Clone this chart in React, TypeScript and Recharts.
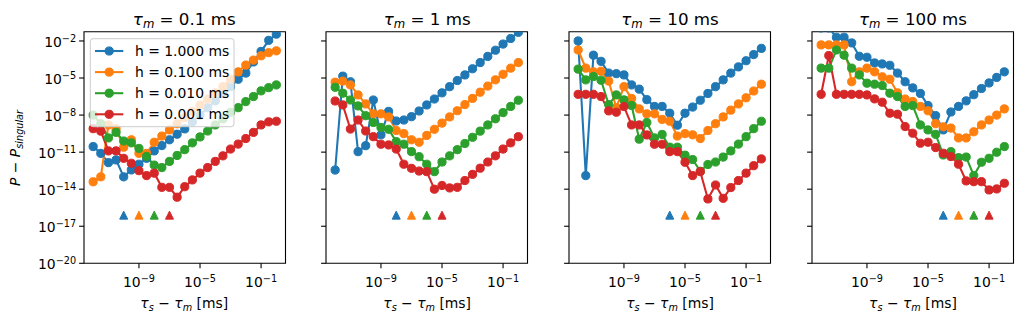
import React from 'react';
import { ComposedChart, Line, Scatter, XAxis, YAxis, ReferenceArea } from 'recharts';

// x positions: log10(tau_s - tau_m) in ms
const tauExp = [-12, -11.5, -11, -10.5, -10, -9.5, -9, -8.5, -8, -7.5, -7, -6.5, -6, -5.5, -5, -4.5, -4, -3.5, -3, -2.5, -2, -1.5, -1, -0.5, 0];

// log10(P - P_singular)
// tau_m = 0.1 ms
const tm01_h1000 = [-10.55, -11.1, -11.85, -11.63, -13.0, -12.44, -11.98, -11.5, -10.9, -10.47, -10.0, -9.55, -9.12, -8.55, -8.0, -7.4, -6.85, -6.25, -5.7, -5.1, -4.6, -3.7, -2.85, -1.95, -1.45];
const tm01_h0100 = [-13.4, -13.0, -8.8, -9.1, -10.6, -10.0, -11.1, -11.1, -10.2, -9.7, -9.2, -8.7, -8.2, -7.7, -7.2, -6.7, -6.2, -5.7, -5.1, -4.5, -3.95, -3.55, -3.2, -2.95, -2.8];
const tm01_h0010 = [-8.0, -8.7, -9.85, -9.4, -10.1, -10.25, -10.7, -11.35, -12.05, -12.25, -11.75, -11.27, -10.8, -10.25, -9.77, -9.29, -8.8, -8.31, -7.77, -7.4, -6.91, -6.5, -6.04, -5.78, -5.56];
const tm01_h0001 = [-9.1, -9.3, -10.9, -10.9, -11.5, -11.9, -12.5, -12.9, -12.7, -13.85, -13.85, -14.65, -13.8, -13.25, -12.7, -12.25, -11.75, -11.3, -10.75, -10.35, -9.9, -9.4, -8.8, -8.55, -8.5];

// tau_m = 1 ms
const tm1_h1000 = [-12.45, -4.85, -5.3, -10.96, -10.48, -6.78, -9.6, -7.7, -8.48, -8.4, -8.13, -7.67, -7.18, -6.7, -6.2, -5.7, -5.2, -4.75, -4.25, -3.75, -3.25, -2.75, -2.25, -1.8, -1.3];
const tm1_h0100 = [-5.34, -5.25, -5.56, -6.37, -7.1, -7.9, -7.9, -8.15, -9.25, -9.5, -10.0, -10.2, -9.65, -9.15, -8.65, -8.15, -7.65, -7.15, -6.65, -6.15, -5.65, -5.15, -4.7, -4.2, -3.75];
const tm1_h0010 = [-5.75, -6.23, -6.78, -7.26, -8.05, -8.6, -9.0, -9.15, -10.15, -10.36, -10.96, -11.37, -11.98, -12.58, -11.8, -11.3, -10.8, -10.3, -9.8, -9.3, -8.8, -8.3, -7.8, -7.3, -6.8];
const tm1_h0001 = [-6.86, -7.18, -9.13, -8.4, -9.29, -9.75, -10.36, -10.42, -10.75, -11.98, -12.31, -12.53, -12.58, -14.0, -13.7, -13.9, -13.85, -13.3, -12.8, -12.3, -11.8, -11.3, -10.75, -10.25, -9.75];

// tau_m = 10 ms
const tm10_h1000 = [-2.0, -12.9, -3.15, -3.65, -4.6, -4.65, -4.75, -5.56, -5.9, -6.75, -7.3, -7.3, -7.85, -8.82, -7.85, -7.35, -6.8, -6.25, -5.7, -5.15, -4.6, -4.1, -3.6, -3.1, -2.6];
const tm10_h0100 = [-2.73, -4.2, -4.5, -4.45, -5.25, -7.4, -5.7, -6.65, -7.5, -7.9, -7.9, -8.35, -8.5, -9.7, -9.5, -9.6, -9.9, -9.25, -8.7, -8.15, -7.6, -7.1, -6.6, -6.05, -5.5];
const tm10_h0010 = [-4.28, -5.15, -4.88, -5.18, -7.15, -6.37, -6.77, -7.22, -9.95, -8.6, -9.85, -9.57, -10.6, -10.6, -11.25, -11.6, -12.55, -12.0, -11.8, -11.4, -10.9, -10.35, -9.75, -9.1, -8.5];
const tm10_h0001 = [-6.32, -6.32, -6.32, -6.5, -7.66, -7.77, -7.31, -8.8, -8.8, -9.61, -10.36, -10.36, -10.96, -10.96, -11.82, -12.9, -12.58, -14.79, -13.66, -14.74, -13.87, -13.3, -12.7, -12.1, -11.55];

// tau_m = 100 ms
const tm100_h1000 = [-0.95, -0.95, -1.7, -1.7, -2.16, -3.24, -3.32, -3.78, -3.86, -3.97, -4.6, -5.3, -5.8, -6.25, -7.23, -8.04, -9.2, -7.75, -7.3, -6.85, -6.35, -5.85, -5.4, -4.95, -4.5];
const tm100_h0100 = [-2.32, -2.32, -2.32, -2.32, -5.3, -4.5, -4.2, -4.5, -4.9, -5.1, -6.2, -6.7, -6.9, -7.3, -7.65, -8.7, -8.95, -9.05, -9.85, -9.85, -9.35, -8.8, -8.4, -8.0, -7.5];
const tm100_h0010 = [-4.2, -4.2, -2.73, -3.15, -4.2, -4.75, -5.42, -5.5, -5.61, -6.23, -6.5, -7.3, -7.23, -8.8, -9.2, -9.56, -11.23, -10.96, -11.45, -11.4, -12.9, -11.82, -11.5, -11.01, -10.55];
const tm100_h0001 = [-6.32, -3.18, -6.32, -6.32, -6.32, -6.32, -6.37, -6.69, -6.96, -7.85, -7.93, -8.93, -9.47, -10.28, -10.2, -10.63, -11.09, -11.36, -11.98, -13.33, -13.39, -13.39, -14.06, -13.98, -13.52];

// triangle markers (log10 position) per panel, one per h
const marks01 = [-10, -9, -8, -7];
const marks1 = [-8, -7, -6, -5];
const marks10 = [-6, -5, -4, -3];
const marks100 = [-4, -3, -2, -1];
const markLevel = -16.1;

const tauMLabels = ['0.1', '1', '10', '100'];
const hLabels = ['1.000', '0.100', '0.010', '0.001'];
const yTicks = [-20, -17, -14, -11, -8, -5, -2];
const xTicks = [-9, -5, -1];

const COLORS = ['#1f77b4', '#ff7f0e', '#2ca02c', '#d62728'];
const FONT = 'DejaVu Sans';

const X_DOMAIN: [number, number] = [-12.6, 0.6];
const Y_DOMAIN: [number, number] = [-20, -1.25];
const PLOT_TOP = 31.7;
const PLOT_BOTTOM = 263.3;
const PLOT_W = 201.5;
const panelLeft = [83.5, 326.4, 569.3, 812.2];
const Y_AXIS_W = 70;
const RIGHT_PAD = 10;
const X_AXIS_H = 30;
const DOT_R = 4.1;

const panels = [
  { tm: tauMLabels[0], series: [tm01_h1000, tm01_h0100, tm01_h0010, tm01_h0001], marks: marks01 },
  { tm: tauMLabels[1], series: [tm1_h1000, tm1_h0100, tm1_h0010, tm1_h0001], marks: marks1 },
  { tm: tauMLabels[2], series: [tm10_h1000, tm10_h0100, tm10_h0010, tm10_h0001], marks: marks10 },
  { tm: tauMLabels[3], series: [tm100_h1000, tm100_h0100, tm100_h0010, tm100_h0001], marks: marks100 },
];

function PowLabel({ x, y, value, anchor }: { x: number; y: number; value: number; anchor: 'middle' | 'end' }) {
  return (
    <text x={x} y={y} textAnchor={anchor} fontFamily={FONT} fontSize={13.9} fill="#000">
      <tspan>10</tspan>
      <tspan dy={-5.3} fontSize={9.7}>{'\u2212' + Math.abs(value)}</tspan>
    </text>
  );
}

const triangle = (color: string) => (props: any) => {
  const { cx, cy } = props;
  const s = 4;
  return (
    <polygon
      points={`${cx},${cy - s} ${cx - s},${cy + s} ${cx + s},${cy + s}`}
      fill={color}
      stroke={color}
      strokeWidth={1}
    />
  );
};

function Panel({ idx }: { idx: number }) {
  const p = panels[idx];
  const rows = tauExp.map((x, i) => ({
    x,
    s0: p.series[0][i],
    s1: p.series[1][i],
    s2: p.series[2][i],
    s3: p.series[3][i],
  }));
  const showY = idx === 0;
  return (
    <div style={{ position: 'absolute', left: panelLeft[idx] - Y_AXIS_W, top: 0 }}>
      <ComposedChart
        width={Y_AXIS_W + PLOT_W + RIGHT_PAD}
        height={324}
        data={rows}
        margin={{ top: PLOT_TOP, right: RIGHT_PAD, left: 0, bottom: 324 - PLOT_BOTTOM - X_AXIS_H }}
      >
        <XAxis
          dataKey="x"
          type="number"
          domain={X_DOMAIN}
          allowDataOverflow
          ticks={xTicks}
          interval={0}
          height={X_AXIS_H}
          axisLine={false}
          tickLine={{ stroke: '#000', strokeWidth: 1.1 }}
          tickSize={4.9}
          tickMargin={0}
          tick={(t: any) => <PowLabel x={t.x} y={t.y + 19.1} value={t.payload.value} anchor="middle" />}
        />
        <YAxis
          type="number"
          domain={Y_DOMAIN}
          allowDataOverflow
          ticks={yTicks}
          interval={0}
          width={Y_AXIS_W}
          axisLine={false}
          tickLine={{ stroke: '#000', strokeWidth: 1.1 }}
          tickSize={4.9}
          tickMargin={3}
          tick={(t: any) =>
            showY ? <PowLabel x={t.x} y={t.y + 6} value={t.payload.value} anchor="end" /> : <g />
          }
        />
        {COLORS.map((c, j) => (
          <Line
            key={'l' + j}
            dataKey={'s' + j}
            type="linear"
            stroke={c}
            strokeWidth={2.08}
            dot={{ r: DOT_R, fill: c, stroke: c, strokeWidth: 1 }}
            activeDot={false}
            isAnimationActive={false}
          />
        ))}
        {COLORS.map((c, j) => (
          <Scatter
            key={'m' + j}
            data={[{ x: p.marks[j], y: markLevel }]}
            dataKey="y"
            fill={c}
            shape={triangle(c)}
            isAnimationActive={false}
          />
        ))}
        <ReferenceArea
          x1={X_DOMAIN[0]}
          x2={X_DOMAIN[1]}
          y1={Y_DOMAIN[0]}
          y2={Y_DOMAIN[1]}
          fill="none"
          fillOpacity={0}
          stroke="#000"
          strokeWidth={1.1}
        />
      </ComposedChart>
    </div>
  );
}

function Overlay() {
  return (
    <svg
      width={1023}
      height={324}
      style={{ position: 'absolute', left: 0, top: 0, pointerEvents: 'none' }}
      fontFamily={FONT}
    >
      {panels.map((p, i) => {
        const cx = panelLeft[i] + PLOT_W / 2;
        return (
          <g key={i}>
            <text x={cx} y={24.5} textAnchor="middle" fontSize={16.7} fill="#000">
              <tspan fontStyle="italic">τ</tspan>
              <tspan fontStyle="italic" fontSize={11.7} dy={3.5}>m</tspan>
              <tspan dy={-3.5}>{` = ${p.tm} ms`}</tspan>
            </text>
            <text x={cx} y={308.3} textAnchor="middle" fontSize={13.9} fill="#000">
              <tspan fontStyle="italic">τ</tspan>
              <tspan fontStyle="italic" fontSize={9.7} dy={3}>s</tspan>
              <tspan dy={-3}>{' \u2212 '}</tspan>
              <tspan fontStyle="italic">τ</tspan>
              <tspan fontStyle="italic" fontSize={9.7} dy={3}>m</tspan>
              <tspan dy={-3}>{' [ms]'}</tspan>
            </text>
          </g>
        );
      })}
      <text transform="translate(20,148) rotate(-90)" textAnchor="middle" fontSize={13.9} fill="#000">
        <tspan fontStyle="italic">P</tspan>
        <tspan>{' \u2212 '}</tspan>
        <tspan fontStyle="italic">P</tspan>
        <tspan fontStyle="italic" fontSize={9.7} dy={3}>singular</tspan>
      </text>
      <g>
        <rect x={90.3} y={38.7} width={143.7} height={88} rx={2.8} fill="#fff" fillOpacity={0.8} stroke="#cccccc" strokeWidth={1} />
        {hLabels.map((h, i) => {
          const cy = 51 + i * 21.1;
          return (
            <g key={h}>
              <line x1={95} x2={123.3} y1={cy} y2={cy} stroke={COLORS[i]} strokeWidth={2.08} />
              <circle cx={109.2} cy={cy} r={DOT_R} fill={COLORS[i]} stroke={COLORS[i]} strokeWidth={1} />
              <text x={135} y={cy + 5} fontSize={13.9} fill="#000">{`h = ${h} ms`}</text>
            </g>
          );
        })}
      </g>
    </svg>
  );
}

export default function App() {
  return (
    <div style={{ position: 'absolute', left: 0, top: 0, width: 1023, height: 324, background: '#fff', overflow: 'hidden' }}>
      {panels.map((_, i) => (
        <Panel key={i} idx={i} />
      ))}
      <Overlay />
    </div>
  );
}
